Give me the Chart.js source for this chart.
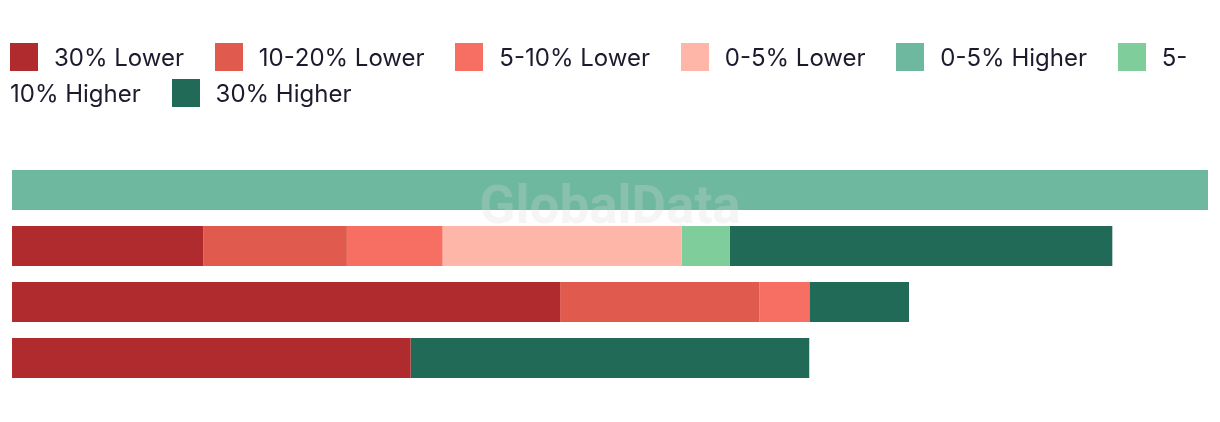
<!DOCTYPE html>
<html>
<head>
<meta charset="utf-8">
<script src="https://cdn.jsdelivr.net/npm/chart.js@4"></script>
<style>
  html, body { margin: 0; padding: 0; background: #fff; }
  #wrap { position: relative; width: 1220px; height: 422px; }
  #legend {
    position: absolute; left: 0; top: 40px; width: 1198px; padding-left: 10px;
    font-family: Inter, sans-serif; font-size: 24px; line-height: 36px; color: #1c1b2e;
  }
  #legend .item { margin-right: 24px; }
  #legend .box {
    display: inline-block; width: 28px; height: 28px; margin-right: 16px;
    vertical-align: -5px;
  }
</style>
</head>
<body>
<div id="wrap">
  <canvas id="bars" width="1220" height="422"></canvas>
  <div id="legend"></div>
</div>
<script>
var categories = ["Row 1", "Row 2", "Row 3", "Row 4"];

var seriesNames = ["30% Lower", "10-20% Lower", "5-10% Lower", "0-5% Lower", "0-5% Higher", "5-10% Higher", "30% Higher"];
var seriesColors = ["#b02b2e", "#e05a4e", "#f76f62", "#fdb6a7", "#6fb8a0", "#7ecd9b", "#206a57"];

var lower30 = [0, 16, 45.83, 33.33];
var lower10to20 = [0, 12, 16.67, 0];
var lower5to10 = [0, 8, 4.17, 0];
var lower0to5 = [0, 20, 0, 0];
var higher0to5 = [100, 0, 0, 0];
var higher5to10 = [0, 4, 0, 0];
var higher30 = [0, 32, 8.33, 33.33];

var seriesValues = [lower30, lower10to20, lower5to10, lower0to5, higher0to5, higher5to10, higher30];

// faint brand mark in the middle of the plot
var watermark = {
  id: "watermark",
  afterDraw: function(chart) {
    var ctx = chart.ctx;
    ctx.save();
    ctx.font = "bold 53px Roboto, sans-serif";
    ctx.fillStyle = "rgba(215,215,215,0.25)";
    ctx.textAlign = "center";
    ctx.textBaseline = "middle";
    ctx.fillText("GlobalData", 610, 210);
    ctx.restore();
  }
};

var barsChart = new Chart(document.getElementById("bars"), {
  type: "bar",
  data: {
    labels: categories,
    datasets: seriesNames.map(function(name, i) {
      return {
        label: name,
        data: seriesValues[i],
        backgroundColor: seriesColors[i],
        borderWidth: 0,
        barPercentage: 1,
        categoryPercentage: 40 / 56
      };
    })
  },
  options: {
    indexAxis: "y",
    responsive: false,
    animation: false,
    layout: { padding: { left: 12, right: 12, top: 162, bottom: 36 } },
    scales: {
      x: { stacked: true, min: 0, max: 100, display: false },
      y: { stacked: true, display: false }
    },
    plugins: {
      legend: { display: false },
      tooltip: { enabled: true }
    }
  },
  plugins: [watermark]
});

// html legend so long labels can wrap like text
var legendItems = Chart.defaults.plugins.legend.labels.generateLabels(barsChart);
var legendEl = document.getElementById("legend");
legendEl.innerHTML = legendItems.map(function(item) {
  var text = item.text.replace(/^(\d+)-(\d+%)/, "$1-<wbr>$2");
  return '<span class="item"><span class="box" style="background:' + item.fillStyle + '"></span>' + text + '</span>';
}).join(" ");
</script>
</body>
</html>
